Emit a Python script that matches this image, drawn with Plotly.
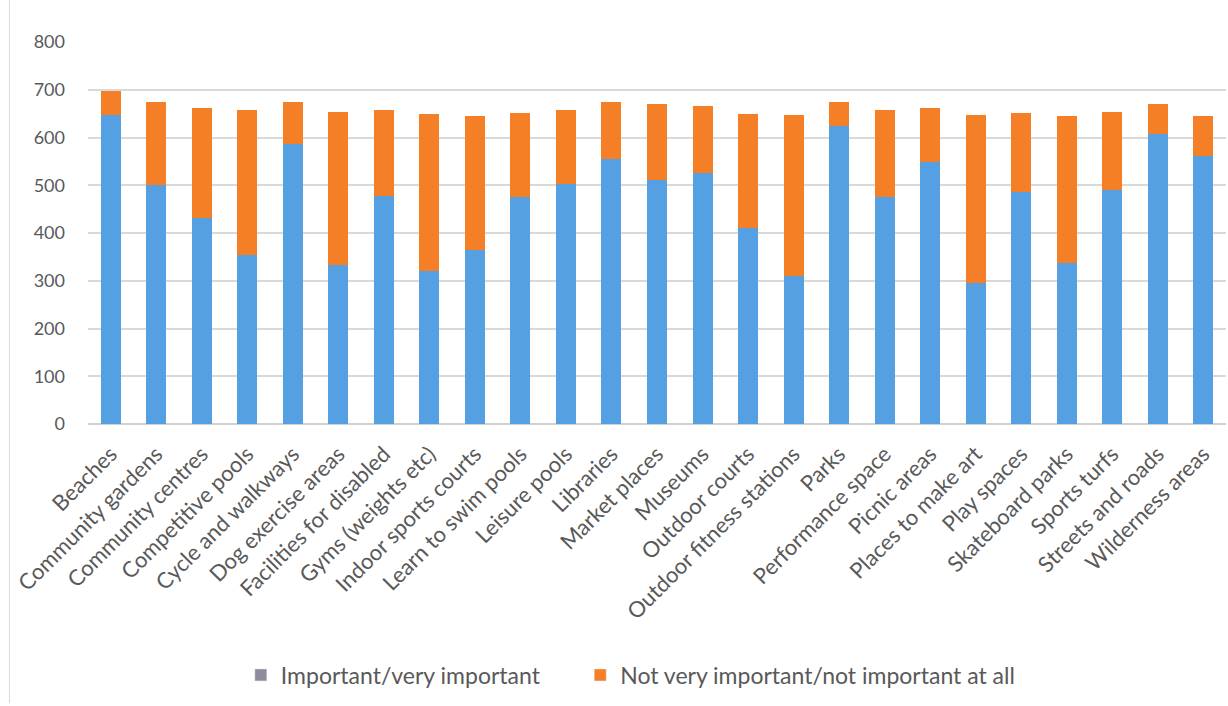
import plotly.graph_objects as go

categories = ["Beaches", "Community gardens", "Community centres", "Competitive pools",
              "Cycle and walkways", "Dog exercise areas", "Facilities for disabled",
              "Gyms (weights etc)", "Indoor sports courts", "Learn to swim pools",
              "Leisure pools", "Libraries", "Market places", "Museums", "Outdoor courts",
              "Outdoor fitness stations", "Parks", "Performance space", "Picnic areas",
              "Places to make art", "Play spaces", "Skateboard parks", "Sports turfs",
              "Streets and roads", "Wilderness areas"]
important = [648, 501, 432, 353, 587, 333, 478, 321, 364, 476,
             502, 554, 511, 525, 410, 309, 624, 476, 549, 295,
             485, 337, 490, 608, 562]
totals = [698, 675, 661, 658, 675, 654, 658, 650, 645, 651,
          658, 675, 670, 666, 650, 647, 675, 658, 661, 648,
          652, 645, 654, 670, 645]
not_important = [t - i for t, i in zip(totals, important)]

series_names = ["Important/very important", "Not very important/not important at all"]
y_ticks = [0, 100, 200, 300, 400, 500, 600, 700, 800]

BLUE = "#55A0E2"
ORANGE = "#F47F26"
TEXT = "#595959"
FONT = "Lato"

fig = go.Figure()
fig.add_trace(go.Bar(x=categories, y=important, name=series_names[0],
                     marker=dict(color=BLUE, line=dict(width=0)), showlegend=False))
fig.add_trace(go.Bar(x=categories, y=not_important, name=series_names[1],
                     marker=dict(color=ORANGE, line=dict(width=0)), showlegend=False))
# legend entries (first legend swatch is grey in the original)
fig.add_trace(go.Bar(x=[categories[0]], y=[None], name=series_names[0] + "\u00a0" * 6,
                     marker=dict(color="#8C8C9C"), showlegend=True))
fig.add_trace(go.Bar(x=[categories[0]], y=[None], name=series_names[1],
                     marker=dict(color=ORANGE), showlegend=True))

fig.update_layout(
    barmode="stack",
    bargap=0.56,
    width=1228, height=706,
    margin=dict(l=88, r=2, t=42, b=282),
    paper_bgcolor="white", plot_bgcolor="white",
    font=dict(family=FONT, size=17, color=TEXT),
    legend=dict(orientation="h", x=0.477, xanchor="center", y=-0.657, yanchor="middle",
                font=dict(family=FONT, size=23, color=TEXT), itemwidth=30,
                traceorder="normal"),
    xaxis=dict(tickangle=-45, tickfont=dict(family=FONT, size=22, color=TEXT),
               showgrid=False, showline=False, ticks="", ticklabelstandoff=12),
    yaxis=dict(range=[0, 800], tickvals=y_ticks, showgrid=True, gridcolor="#D9D9D9",
               gridwidth=2, zeroline=True, zerolinecolor="#D0D0D0", zerolinewidth=2,
               tickfont=dict(family=FONT, size=18, color=TEXT), ticks="",
               ticklabelstandoff=22),
    shapes=[dict(type="line", xref="paper", yref="paper", x0=-0.069, x1=-0.069,
                 y0=-0.73, y1=1.11, line=dict(color="#D9D9D9", width=1))],
)

fig.write_html("out.html")
